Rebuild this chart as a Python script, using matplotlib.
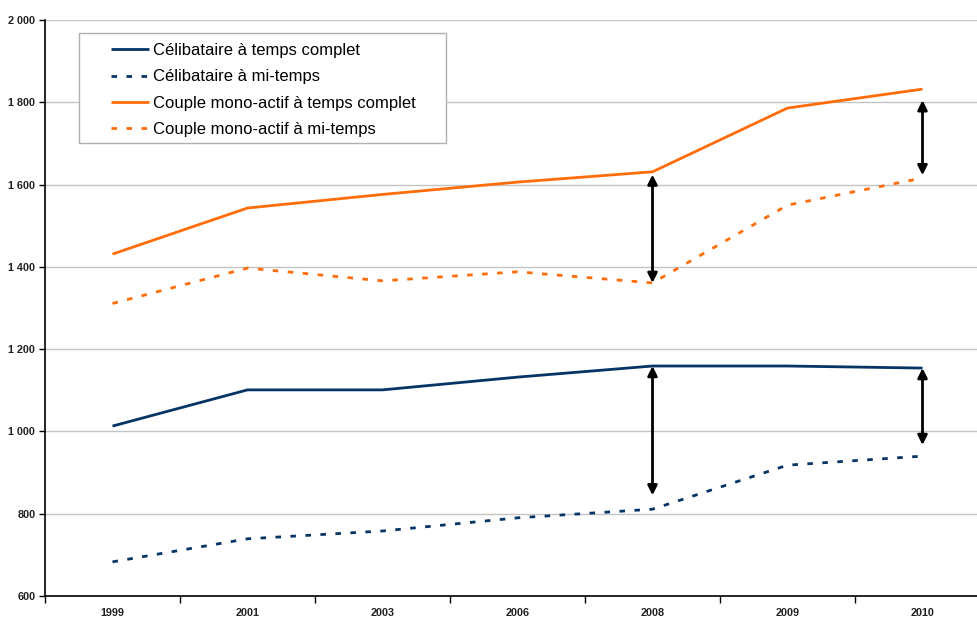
import matplotlib
matplotlib.use("Agg")
import matplotlib.pyplot as plt
from matplotlib.patches import Rectangle
import numpy as np

years = ["1999", "2001", "2003", "2006", "2008", "2009", "2010"]
celib_complet = [1013, 1101, 1101, 1132, 1159, 1159, 1154]
celib_mi = [683, 739, 758, 790, 811, 918, 940]
couple_complet = [1431, 1543, 1576, 1606, 1631, 1786, 1832]
couple_mi = [1311, 1397, 1366, 1388, 1361, 1550, 1616]

labels = ["Célibataire à temps complet", "Célibataire à mi-temps",
          "Couple mono-actif à temps complet", "Couple mono-actif à mi-temps"]
yticks = [600, 800, 1000, 1200, 1400, 1600, 1800, 2000]

NAVY = "#053465"
ORANGE = "#FF6D0A"

plt.rcParams["font.family"] = ["Liberation Sans", "DejaVu Sans"]

fig = plt.figure(figsize=(9.78, 6.19), dpi=100)
ax = fig.add_axes([45 / 978, 1 - 596 / 619, 1 - 45 / 978, (596 - 20) / 619])

x = np.arange(len(years))
dash = (2.0, 3.4)
l1, = ax.plot(x, celib_complet, color=NAVY, lw=2, solid_capstyle="butt")
l2, = ax.plot(x, celib_mi, color=NAVY, lw=2, dashes=dash)
l3, = ax.plot(x, couple_complet, color=ORANGE, lw=2, solid_capstyle="butt")
l4, = ax.plot(x, couple_mi, color=ORANGE, lw=2, dashes=dash)

# double-headed arrows showing the gap between full-time and half-time
def gap_arrow(i, top, bottom, shrink_top=0, shrink_bottom=0):
    ax.annotate("", xy=(x[i], top[i]), xytext=(x[i], bottom[i]),
                arrowprops=dict(arrowstyle="<|-|>", color="black", lw=2,
                                mutation_scale=14,
                                shrinkA=shrink_bottom, shrinkB=shrink_top))

i2008 = years.index("2008")
i2010 = years.index("2010")
gap_arrow(i2008, couple_complet, couple_mi, 2, 0)
gap_arrow(i2010, couple_complet, couple_mi, 8, 2)
gap_arrow(i2008, celib_complet, celib_mi, 0, 10)
gap_arrow(i2010, celib_complet, celib_mi, 0, 8)

ax.set_yticks(yticks)
ax.set_yticklabels([f"{v:,}".replace(",", " ") for v in yticks],
                   fontsize=7.8, fontweight="bold", color="#222222")
ax.yaxis.grid(True, color="#C4C4C4", lw=1)
ax.set_axisbelow(True)

ax.set_xticks(x)
ax.set_xticklabels(years, fontsize=7.8, fontweight="bold", color="#222222")
ax.set_xticks(np.arange(-0.5, len(years), 1.0), minor=True)
ax.tick_params(axis="x", which="major", length=0, pad=9)
ax.tick_params(axis="x", which="minor", length=5, width=1, direction="out")
ax.tick_params(axis="y", length=4, width=1, direction="out", pad=3)

# limits last, so tick placement does not widen the view
ax.set_ylim(600, 2000)
ax.set_xlim(-0.5, -0.5 + (978 - 45) / 135)

for s in ("top", "right"):
    ax.spines[s].set_visible(False)
for s in ("left", "bottom"):
    ax.spines[s].set_linewidth(1.2)
    ax.spines[s].set_color("black")

# legend box
box = Rectangle((79 / 978, 1 - 143 / 619), (446 - 79) / 978, (143 - 33) / 619,
                transform=fig.transFigure, facecolor="white",
                edgecolor="#B0B0B0", lw=1, zorder=5, clip_on=False)
ax.add_patch(box)
leg = ax.legend([l1, l2, l3, l4], labels, loc="upper left",
                bbox_to_anchor=(111 / 978, 1 - 43 / 619),
                bbox_transform=fig.transFigure, frameon=False,
                fontsize=12, handlelength=2.3, handletextpad=0.2,
                labelspacing=0.68, borderpad=0, borderaxespad=0)
leg.set_zorder(6)

fig.savefig("out.png", dpi=100)
